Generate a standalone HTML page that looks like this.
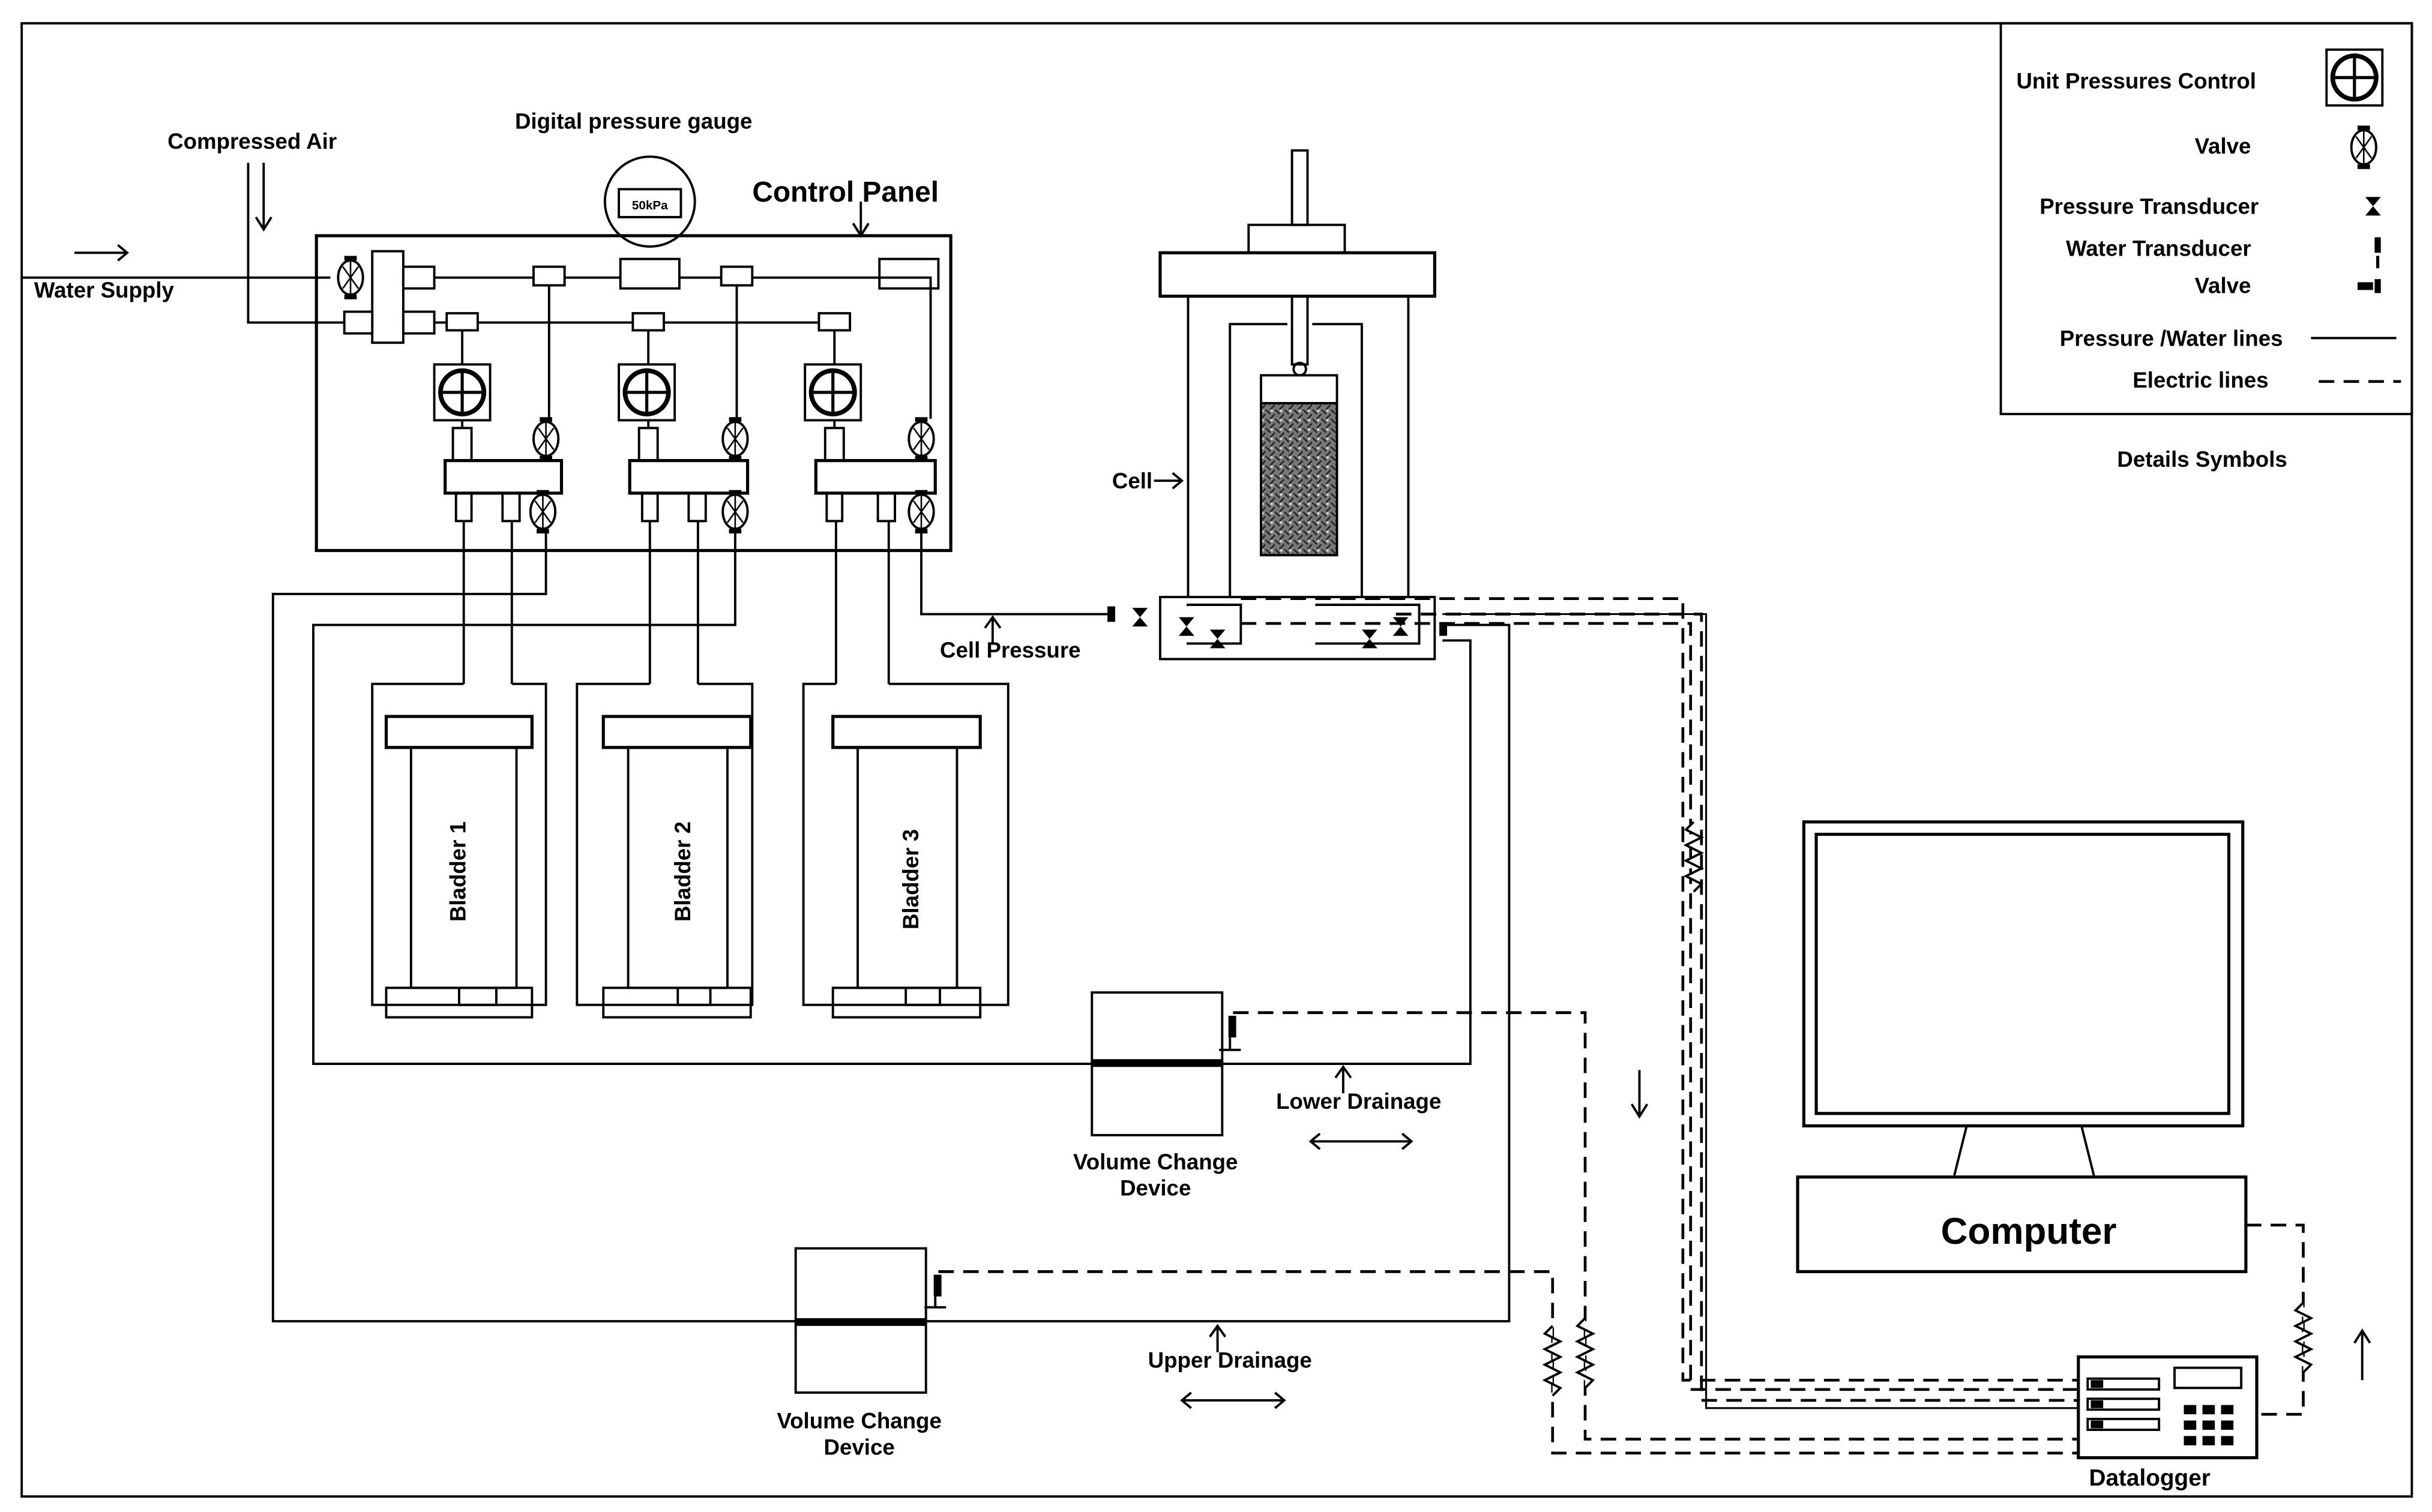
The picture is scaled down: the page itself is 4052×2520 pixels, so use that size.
<!DOCTYPE html>
<html><head><meta charset="utf-8"><style>html,body{margin:0;padding:0;background:#fff}svg{display:block}</style></head><body>
<svg width="4052" height="2520" viewBox="0 0 1568 975" preserveAspectRatio="none" xmlns="http://www.w3.org/2000/svg" font-family="Liberation Sans, Arial, sans-serif" font-weight="bold">
<defs>
<g id="valve"><ellipse cx="0" cy="0" rx="8" ry="11" fill="#fff" stroke="#000" stroke-width="1.5"/><path d="M-5,-7 L5,7 M5,-7 L-5,7 M0,-11 V11" stroke="#000" stroke-width="1"/><rect x="-4" y="-14" width="8" height="3" fill="#000"/><rect x="-4" y="11" width="8" height="3" fill="#000"/></g>
<g id="upc"><rect x="-18" y="-18" width="36" height="36" fill="#fff" stroke="#000" stroke-width="1.5"/><circle r="14" fill="none" stroke="#000" stroke-width="3"/><path d="M0,-14V14M-14,0H14" stroke="#000" stroke-width="2"/></g>
<g id="hg"><path d="M-5,-6 H5 L-5,6 H5 Z" fill="#000"/></g>
<pattern id="soil" width="6" height="6" patternUnits="userSpaceOnUse"><rect width="6" height="6" fill="#777"/><path d="M0,0L3,3M3,6L6,3" stroke="#222" stroke-width="1"/><circle cx="4" cy="1" r="0.8" fill="#ddd"/></pattern>
</defs>
<g fill="none" stroke="#000" stroke-width="1.5">
<rect x="14" y="15" width="1541" height="950"/>
<rect x="1290" y="15" width="265" height="252"/>
<rect x="204" y="152" width="409" height="203" stroke-width="2"/>
<path d="M14,179 H213 M280,179 H600 V270"/>
<path d="M160,105 V208 H540"/>
<path d="M48,163 H82 M76,158 L82,163 L76,168"/>
<path d="M170,105 V148 M165,140 L170,148 L175,140"/>
<path d="M555,130 V152 M550,144 L555,152 L560,144"/>
<rect x="240" y="162" width="20" height="59" fill="#fff"/>
<rect x="260" y="172" width="20" height="14" fill="#fff"/>
<rect x="344" y="172" width="20" height="12" fill="#fff"/>
<rect x="400" y="167" width="38" height="19" fill="#fff"/>
<rect x="465" y="172" width="20" height="12" fill="#fff"/>
<rect x="567" y="167" width="38" height="19" fill="none"/>
<rect x="222" y="201" width="18" height="14" fill="#fff"/>
<rect x="260" y="201" width="20" height="14" fill="#fff"/>
<rect x="288" y="202" width="20" height="11" fill="#fff"/>
<rect x="408" y="202" width="20" height="11" fill="#fff"/>
<rect x="528" y="202" width="20" height="11" fill="#fff"/>
<path d="M298,213V235 M418,213V235 M538,213V235 M354,184V270 M475,184V270"/>
<path d="M298,270V276 M418,270V276 M538,270V276"/>
<rect x="292" y="276" width="12" height="21"/><rect x="412" y="276" width="12" height="21"/><rect x="532" y="276" width="12" height="21"/>
<rect x="287" y="297" width="75" height="21" stroke-width="2"/><rect x="406" y="297" width="76" height="21" stroke-width="2"/><rect x="526" y="297" width="77" height="21" stroke-width="2"/>
<rect x="294" y="318" width="10" height="18"/><rect x="324" y="318" width="11" height="18"/>
<rect x="414" y="318" width="10" height="18"/><rect x="444" y="318" width="11" height="18"/>
<rect x="533" y="318" width="10" height="18"/><rect x="566" y="318" width="11" height="18"/>
<circle cx="419" cy="130" r="29"/>
<rect x="399" y="122" width="40" height="18"/>
<path d="M299,336V441 M330,336V441 M419,336V441 M450,336V441 M539,336V441 M573,336V441"/>
<path d="M299,441H240V648H352V441H330"/>
<path d="M419,441H372V648H485V441H450"/>
<path d="M539,441H518V648H650V441H573"/>
<rect x="249" y="462" width="94" height="20" stroke-width="2"/><rect x="265" y="482" width="68" height="155"/><rect x="249" y="637" width="94" height="19"/><path d="M296,637V648H320V637"/>
<rect x="389" y="462" width="95" height="20" stroke-width="2"/><rect x="405" y="482" width="64" height="155"/><rect x="389" y="637" width="95" height="19"/><path d="M437,637V648H458V637"/>
<rect x="537" y="462" width="95" height="20" stroke-width="2"/><rect x="553" y="482" width="64" height="155"/><rect x="537" y="637" width="95" height="19"/><path d="M584,637V648H606V637"/>
<path d="M352,343V383H176V852H973V403H930"/>
<path d="M474,343V403H202V686H948V413H930"/>
<path d="M594,343V396H716"/>
<path d="M640,415V398 M635,405L640,398L645,405"/>
<rect x="833" y="97" width="10" height="48" stroke-width="1.5"/>
<rect x="805" y="145" width="62" height="18"/>
<rect x="748" y="163" width="177" height="28" stroke-width="2"/>
<path d="M766,191V385 M908,191V385"/>
<path d="M793,385V209H830 M846,209H878V385"/>
<rect x="833" y="191" width="10" height="44"/>
<circle cx="838" cy="238" r="4"/>
<rect x="813" y="242" width="49" height="18"/>
<rect x="813" y="260" width="49" height="98" fill="url(#soil)" stroke="#000"/>
<path d="M748,385H925V425H748Z" stroke-width="1.5"/>
<path d="M765,390H800V415H765 M848,390H915V415H848"/>
<path d="M744,310H762 M756,305L762,310L756,315"/>
<g stroke-dasharray="10,6" stroke-width="1.8">
<path d="M800,386H1085V890H1340"/>
<path d="M800,402H1090V896H1340"/>
<path d="M900,396H1097V903H1340"/>
<path d="M795,653H1022V928H1340"/>
<path d="M605,820H1001V937H1340"/>
<path d="M1448,790H1485V912H1455"/>
<path d="M1495,246H1548"/>
</g>
<path d="M930,396H1100V908H1340" stroke-width="1.2"/>
<path d="M1092,530l-5,5 10,5 -10,5 10,5 -10,5 10,5 -10,5 10,5 -5,5" fill="#fff"/>
<path d="M1001,855l-5,5 10,5 -10,5 10,5 -10,5 10,5 -10,5 10,5 -5,5" fill="#fff"/>
<path d="M1022,850l-5,5 10,5 -10,5 10,5 -10,5 10,5 -10,5 10,5 -5,5" fill="#fff"/>
<path d="M1485,840l-5,5 10,5 -10,5 10,5 -10,5 10,5 -10,5 10,5 -5,5" fill="#fff"/>
<rect x="704" y="640" width="84" height="92"/>
<rect x="513" y="805" width="84" height="93"/>
<path d="M866,705V688 M861,695L866,688L871,695"/>
<path d="M785,872V855 M780,862L785,855L790,862"/>
<path d="M845,736H910 M851,731L845,736L851,741 M904,731L910,736L904,741"/>
<path d="M762,903H828 M768,898L762,903L768,908 M822,898L828,903L822,908"/>
<path d="M1057,690V720 M1052,712L1057,720L1062,712"/>
<path d="M1523,890V858 M1518,866L1523,858L1528,866"/>
<rect x="1163" y="530" width="283" height="196" stroke-width="2"/>
<rect x="1171" y="538" width="266" height="180" stroke-width="2"/>
<path d="M1268,726L1260,758 M1342,726L1350,758"/>
<rect x="1159" y="759" width="289" height="61" stroke-width="2"/>
<rect x="1340" y="875" width="115" height="65" stroke-width="2"/>
<rect x="1402" y="882" width="43" height="13"/>
<rect x="1346" y="889" width="46" height="7"/><rect x="1346" y="902" width="46" height="7"/><rect x="1346" y="915" width="46" height="7"/>
<path d="M1490,218H1545"/>
</g>
<g fill="#000">
<rect x="704" y="683" width="84" height="5"/>
<rect x="513" y="850" width="84" height="5"/>
<rect x="1348" y="890" width="8" height="5"/><rect x="1348" y="903" width="8" height="5"/><rect x="1348" y="916" width="8" height="5"/>
<rect x="1408" y="906" width="8" height="6"/><rect x="1420" y="906" width="8" height="6"/><rect x="1432" y="906" width="8" height="6"/>
<rect x="1408" y="916" width="8" height="6"/><rect x="1420" y="916" width="8" height="6"/><rect x="1432" y="916" width="8" height="6"/>
<rect x="1408" y="926" width="8" height="6"/><rect x="1420" y="926" width="8" height="6"/><rect x="1432" y="926" width="8" height="6"/>
<rect x="792" y="655" width="5" height="14"/><rect x="602" y="822" width="5" height="14"/>
<rect x="714" y="391" width="5" height="10"/><rect x="928" y="402" width="5" height="8"/>
<rect x="1531" y="153" width="4" height="10"/><rect x="1520" y="182" width="10" height="5"/><rect x="1531" y="180" width="4" height="9"/>
</g>
<path d="M786,677H800M793,669V677M596,843H610M603,836V843" stroke="#000" stroke-width="1.5"/>
<use href="#valve" x="226" y="179"/>
<use href="#valve" x="352" y="283"/><use href="#valve" x="474" y="283"/><use href="#valve" x="594" y="283"/>
<use href="#valve" x="350" y="330"/><use href="#valve" x="474" y="330"/><use href="#valve" x="594" y="330"/>
<use href="#upc" x="298" y="253"/><use href="#upc" x="417" y="253"/><use href="#upc" x="537" y="253"/>
<use href="#upc" x="1518" y="50"/>
<use href="#valve" x="1524" y="95"/>
<use href="#hg" x="1530" y="133"/>
<use href="#hg" x="735" y="398"/><use href="#hg" x="765" y="404"/><use href="#hg" x="785" y="412"/><use href="#hg" x="883" y="412"/><use href="#hg" x="903" y="404"/>
<rect x="1532" y="165" width="2" height="8" fill="#000"/>
<g font-size="14.2" fill="#000">
<text x="108" y="96">Compressed Air</text>
<text x="332" y="83">Digital pressure gauge</text>
<text x="22" y="192">Water Supply</text>
<text x="485" y="130" font-size="18.5">Control Panel</text>
<text x="419" y="135" font-size="8" text-anchor="middle">50kPa</text>
<text x="717" y="315">Cell</text>
<text x="606" y="424">Cell Pressure</text>
<text x="876" y="715" text-anchor="middle">Lower Drainage</text>
<text x="793" y="882" text-anchor="middle">Upper Drainage</text>
<text x="745" y="754" text-anchor="middle">Volume Change</text>
<text x="745" y="771" text-anchor="middle">Device</text>
<text x="554" y="921" text-anchor="middle">Volume Change</text>
<text x="554" y="938" text-anchor="middle">Device</text>
<text x="1308" y="802" font-size="24" text-anchor="middle">Computer</text>
<text x="1386" y="958" font-size="15" text-anchor="middle">Datalogger</text>
<text transform="translate(300,562) rotate(-90)" text-anchor="middle">Bladder 1</text>
<text transform="translate(445,562) rotate(-90)" text-anchor="middle">Bladder 2</text>
<text transform="translate(592,567) rotate(-90)" text-anchor="middle">Bladder 3</text>
<text x="1300" y="57">Unit Pressures Control</text>
<text x="1415" y="99">Valve</text>
<text x="1315" y="138">Pressure Transducer</text>
<text x="1332" y="165">Water Transducer</text>
<text x="1415" y="189">Valve</text>
<text x="1328" y="223">Pressure /Water lines</text>
<text x="1375" y="250">Electric lines</text>
<text x="1365" y="301">Details Symbols</text>
</g>
</svg>
</body></html>
